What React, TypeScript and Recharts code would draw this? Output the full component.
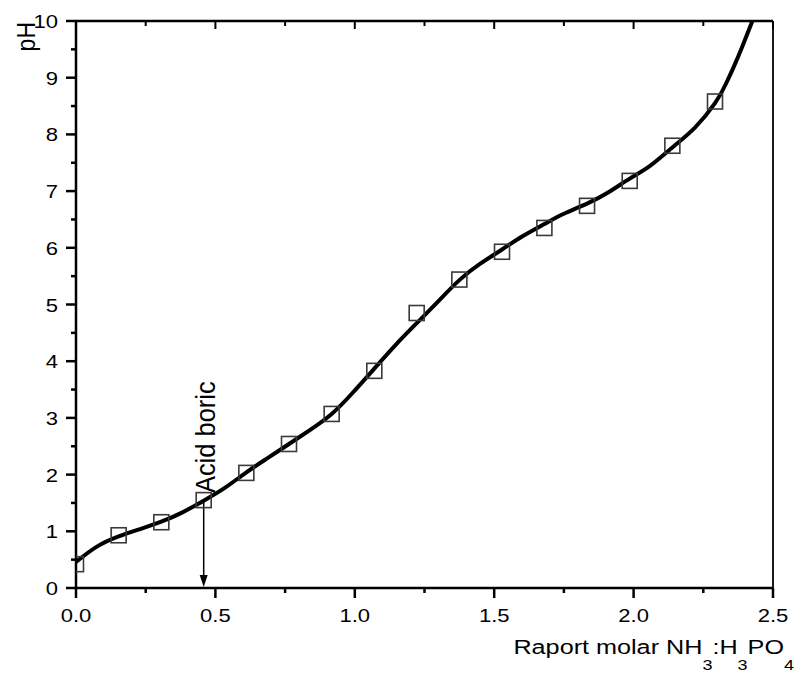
import {
  ComposedChart,
  Line,
  Scatter,
  XAxis,
  YAxis,
  ReferenceLine,
} from "recharts";

// measured points (squares)
const markerX = [0, 0.153, 0.306, 0.458, 0.611, 0.764, 0.917, 1.07, 1.222, 1.375, 1.528, 1.68, 1.833, 1.986, 2.139, 2.292];
const markerPH = [0.42, 0.93, 1.16, 1.55, 2.03, 2.54, 3.07, 3.83, 4.85, 5.44, 5.93, 6.35, 6.74, 7.18, 7.8, 8.58];

// fitted curve
const curveX = [0, 0.075, 0.153, 0.23, 0.306, 0.38, 0.458, 0.535, 0.611, 0.687, 0.764, 0.84, 0.917, 0.99, 1.07, 1.145, 1.222, 1.3, 1.375, 1.45, 1.528, 1.6, 1.68, 1.75, 1.833, 1.91, 1.986, 2.06, 2.139, 2.22, 2.292, 2.33, 2.36, 2.39, 2.426];
const curvePH = [0.46, 0.73, 0.91, 1.04, 1.17, 1.33, 1.54, 1.77, 2.04, 2.29, 2.54, 2.79, 3.07, 3.43, 3.87, 4.28, 4.67, 5.06, 5.43, 5.72, 5.97, 6.2, 6.42, 6.6, 6.78, 6.98, 7.22, 7.45, 7.77, 8.12, 8.55, 8.88, 9.2, 9.55, 10.0];

const xTicks = [0, 0.25, 0.5, 0.75, 1, 1.25, 1.5, 1.75, 2, 2.25, 2.5];
const yTicks = [0, 0.5, 1, 1.5, 2, 2.5, 3, 3.5, 4, 4.5, 5, 5.5, 6, 6.5, 7, 7.5, 8, 8.5, 9, 9.5, 10];

const arrowAt = { x: 0.458, from: 1.55, to: 0 };

const markers = markerX.map((x, i) => ({ x, ph: markerPH[i] }));
const curve = curveX.map((x, i) => ({ x, ph: curvePH[i] }));

const FONT = "'Liberation Sans', Arial, sans-serif";
const isMajorX = (v: number) => Math.abs(v * 2 - Math.round(v * 2)) < 1e-6;
const isMajorY = (v: number) => Number.isInteger(v);

function BottomTick(props: any) {
  const { x, y, payload } = props;
  const v = payload.value;
  const major = isMajorX(v);
  return (
    <g>
      <line x1={x} x2={x} y1={y} y2={y + (major ? 10 : 5)} stroke="#000" strokeWidth={2.5} />
      {major && (
        <text
          transform={`translate(${x},${y + 34}) scale(1.16,1)`}
          textAnchor="middle"
          fontFamily={FONT}
          fontSize={19}
          fill="#000"
        >
          {v.toFixed(1)}
        </text>
      )}
    </g>
  );
}

function TopTick(props: any) {
  const { x, y, payload } = props;
  const major = isMajorX(payload.value);
  return <line x1={x} x2={x} y1={y} y2={y + (major ? 8 : 5)} stroke="#000" strokeWidth={2} />;
}

function LeftTick(props: any) {
  const { x, y, payload } = props;
  const v = payload.value;
  const major = isMajorY(v);
  return (
    <g>
      <line x1={x} x2={x - (major ? 10 : 5)} y1={y} y2={y} stroke="#000" strokeWidth={2.5} />
      {major && (
        <text
          transform={`translate(${x - 18},${y + 7}) scale(1.16,1)`}
          textAnchor="end"
          fontFamily={FONT}
          fontSize={19}
          fill="#000"
        >
          {v}
        </text>
      )}
    </g>
  );
}

function ArrowShape(props: any) {
  const { x1, y1, x2, y2 } = props;
  return (
    <g>
      <line x1={x1} y1={y1} x2={x2} y2={y2 - 10} stroke="#000" strokeWidth={1.5} />
      <polygon points={`${x2 - 4},${y2 - 13} ${x2 + 4},${y2 - 13} ${x2},${y2 - 1}`} fill="#000" />
      <text
        transform={`translate(${x1 + 11},${y1 - 7}) rotate(-90) scale(1,1.08)`}
        textAnchor="start"
        fontFamily={FONT}
        fontSize={25.5}
        fill="#000"
      >
        Acid boric
      </text>
    </g>
  );
}

export default function App() {
  return (
    <div style={{ width: 799, height: 675, background: "#fff" }}>
      <style>{`body{margin:0}`}</style>
      <ComposedChart width={799} height={675} margin={{ top: 20, right: 25, bottom: 0, left: 0 }}>
        <XAxis
          xAxisId="bottom"
          type="number"
          dataKey="x"
          domain={[0, 2.5]}
          ticks={xTicks}
          interval={0}
          height={87}
          tickSize={0}
          tickMargin={0}
          tick={<BottomTick />}
          axisLine={false}
          allowDataOverflow
        />
        <XAxis
          xAxisId="top"
          orientation="top"
          type="number"
          dataKey="x"
          domain={[0, 2.5]}
          ticks={xTicks}
          interval={0}
          height={1}
          tickSize={0}
          tickMargin={0}
          tick={<TopTick />}
          axisLine={false}
          allowDataOverflow
        />
        <YAxis
          yAxisId="left"
          type="number"
          dataKey="ph"
          domain={[0, 10]}
          ticks={yTicks}
          interval={0}
          width={76}
          tickSize={0}
          tickMargin={0}
          tick={<LeftTick />}
          axisLine={false}
          allowDataOverflow
        />
        <YAxis
          yAxisId="right"
          orientation="right"
          type="number"
          dataKey="ph"
          domain={[0, 10]}
          width={1}
          tick={false}
          tickLine={false}
          axisLine={false}
          allowDataOverflow
        />
        {/* plot frame */}
        <ReferenceLine xAxisId="bottom" yAxisId="left" y={0} stroke="#000" strokeWidth={2.5} />
        <ReferenceLine xAxisId="bottom" yAxisId="left" y={10} stroke="#000" strokeWidth={2.5} />
        <ReferenceLine xAxisId="bottom" yAxisId="left" x={0} stroke="#000" strokeWidth={2.5} />
        <ReferenceLine xAxisId="bottom" yAxisId="left" x={2.5} stroke="#000" strokeWidth={1.8} />
        <Scatter
          xAxisId="bottom"
          yAxisId="left"
          data={markers}
          dataKey="ph"
          isAnimationActive={false}
          shape={(p: any) => (
            <rect x={p.cx - 7.5} y={p.cy - 7.5} width={15} height={15} fill="none" stroke="#3a3a3a" strokeWidth={1.6} />
          )}
        />
        <Line
          xAxisId="bottom"
          yAxisId="left"
          data={curve}
          dataKey="ph"
          type="natural"
          stroke="#000"
          strokeWidth={4}
          dot={false}
          activeDot={false}
          isAnimationActive={false}
        />
        <Line
          xAxisId="top"
          yAxisId="right"
          data={curve}
          dataKey="ph"
          stroke="none"
          dot={false}
          activeDot={false}
          isAnimationActive={false}
        />
        <ReferenceLine
          xAxisId="bottom"
          yAxisId="left"
          segment={[
            { x: arrowAt.x, y: arrowAt.from },
            { x: arrowAt.x, y: arrowAt.to },
          ]}
          shape={<ArrowShape />}
          ifOverflow="visible"
        />
        <text transform="translate(35,22) rotate(-90) scale(1,1.1)" textAnchor="end" fontFamily={FONT} fontSize={23} fill="#000">
          pH
        </text>
        <text transform="translate(794,654) scale(1.2,1)" textAnchor="end" fontFamily={FONT} fontSize={21} fill="#000">
          Raport molar NH
          <tspan dy={16} fontSize={15}>3</tspan>
          <tspan dy={-16}>:H</tspan>
          <tspan dy={16} fontSize={15}>3</tspan>
          <tspan dy={-16}>PO</tspan>
          <tspan dy={16} fontSize={15}>4</tspan>
        </text>
      </ComposedChart>
    </div>
  );
}
